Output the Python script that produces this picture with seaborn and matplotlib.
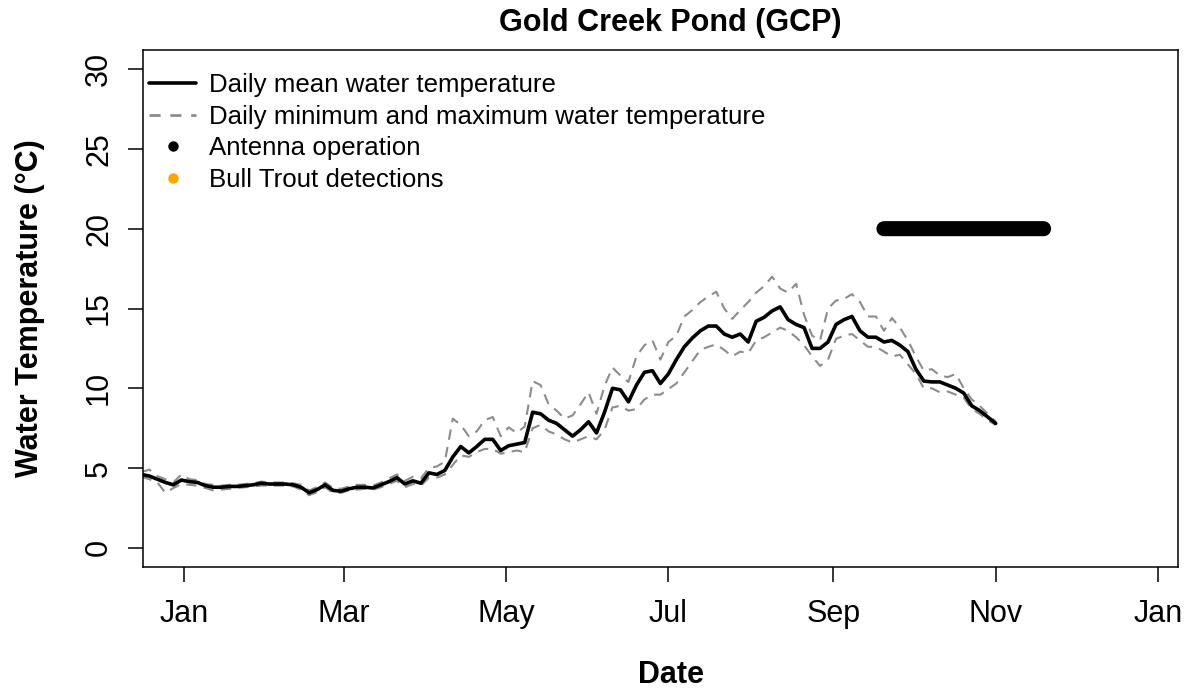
import matplotlib
matplotlib.use("Agg")
import matplotlib.pyplot as plt
import matplotlib.dates as mdates
from matplotlib.lines import Line2D
import seaborn as sns
import pandas as pd

# Water temperature record, one reading every third day from 16 Dec 2019
start_date = "2019-12-16"
step = "3D"

daily_mean = [
    4.6, 4.5, 4.3, 4.1, 3.95, 4.25, 4.15, 4.1, 3.9, 3.8,
    3.8, 3.85, 3.85, 3.9, 3.95, 4.05, 4.0, 4.0, 4.0, 3.95,
    3.8, 3.45, 3.65, 3.95, 3.6, 3.55, 3.7, 3.8, 3.8, 3.75,
    3.95, 4.15, 4.4, 4.0, 4.2, 4.05, 4.7, 4.6, 4.85, 5.7,
    6.35, 5.95, 6.35, 6.8, 6.8, 6.1, 6.4, 6.5, 6.6, 8.5,
    8.4, 8.0, 7.8, 7.4, 7.0, 7.4, 7.9, 7.2, 8.5, 10.0,
    9.9, 9.15, 10.2, 11.0, 11.1, 10.3, 10.9, 11.8, 12.6, 13.15,
    13.6, 13.9, 13.9, 13.4, 13.2, 13.4, 12.9, 14.2, 14.45, 14.85,
    15.1, 14.3, 14.0, 13.8, 12.5, 12.5, 12.9, 14.0, 14.3, 14.5,
    13.6, 13.2, 13.2, 12.9, 13.0, 12.7, 12.3, 11.2, 10.45, 10.4,
    10.4, 10.2, 10.0, 9.7, 8.9, 8.6, 8.2, 7.8,
]

daily_max = [
    4.75, 4.9, 4.5, 4.3, 4.1, 4.6, 4.3, 4.25, 4.0, 3.95,
    3.9, 3.95, 3.95, 4.0, 4.05, 4.15, 4.1, 4.1, 4.1, 4.05,
    3.95, 3.6, 3.8, 4.1, 3.75, 3.7, 3.85, 3.95, 3.95, 3.9,
    4.1, 4.35, 4.6, 4.2, 4.45, 4.35, 5.0, 5.1, 5.4, 8.1,
    7.7, 7.0, 7.3, 8.0, 8.2, 7.0, 7.55, 7.2, 7.6, 10.45,
    10.2, 9.0, 8.6, 8.1, 8.3, 9.0, 9.75, 8.4, 10.15, 11.3,
    10.8, 10.4, 12.0, 12.7, 13.0, 11.8, 12.9, 13.3, 14.5, 14.9,
    15.4, 15.75, 16.05, 15.0, 14.35, 14.9, 15.4, 16.0, 16.4, 17.0,
    16.25, 16.0, 16.55, 14.6, 13.3, 13.0, 15.0, 15.5, 15.6, 15.9,
    15.4, 14.5, 14.5, 13.6, 14.4, 13.8, 13.0, 12.0, 11.1, 11.2,
    10.8, 10.7, 10.9, 10.0, 9.3, 8.9, 8.4, 7.9,
]

daily_min = [
    4.45, 4.3, 4.1, 3.45, 3.75, 4.0, 3.95, 3.9, 3.75, 3.6,
    3.65, 3.7, 3.75, 3.8, 3.85, 3.9, 3.9, 3.9, 3.9, 3.85,
    3.65, 3.3, 3.5, 3.8, 3.45, 3.45, 3.6, 3.65, 3.7, 3.65,
    3.8, 4.0, 4.2, 3.8, 4.0, 3.9, 4.4, 4.4, 4.6, 5.2,
    5.8, 5.7, 6.0, 6.2, 6.2, 5.9, 6.0, 6.1, 6.0, 7.5,
    7.7, 7.3, 7.1, 6.8, 6.6, 6.8, 7.0, 6.8, 7.4, 8.8,
    8.9, 8.6, 8.7, 9.3, 9.6, 9.6, 9.95, 10.3, 11.0, 11.7,
    12.4, 12.6, 12.75, 12.4, 12.0, 12.3, 12.2, 13.0, 13.2, 13.5,
    13.8, 13.6, 13.2, 12.7, 12.0, 11.4, 11.8, 13.1, 13.3, 13.4,
    13.0, 12.6, 12.6, 12.3, 12.0, 12.1, 11.5, 10.9, 10.0, 10.0,
    9.75, 9.8, 9.6, 9.4, 8.7, 8.4, 8.0, 7.7,
]

# Days on which the PIT antenna was running, shown as a band at 20 °C
antenna_start = "2020-09-20"
antenna_end = "2020-11-19"
antenna_level = 20

y_ticks = [0, 5, 10, 15, 20, 25, 30]
tick_months = [1, 3, 5, 7, 9, 11]

title = "Gold Creek Pond (GCP)"
x_label = "Date"
y_label = "Water Temperature (°C)"
legend_labels = [
    "Daily mean water temperature",
    "Daily minimum and maximum water temperature",
    "Antenna operation",
    "Bull Trout detections",
]

dates = pd.date_range(start_date, periods=len(daily_mean), freq=step)
temps = pd.DataFrame({"date": dates, "mean": daily_mean,
                      "max": daily_max, "min": daily_min})
antenna_days = pd.date_range(antenna_start, antenna_end, freq="D")
antenna = pd.DataFrame({"date": antenna_days,
                        "temp": [antenna_level] * len(antenna_days)})

sns.set_style("ticks")
plt.rcParams["font.family"] = ["Liberation Sans", "DejaVu Sans"]
plt.rcParams.update({
    "text.color": "black",
    "axes.labelcolor": "black",
    "xtick.color": "black",
    "ytick.color": "black",
    "axes.edgecolor": "black",
})

fig = plt.figure(figsize=(11.94, 6.92), dpi=100)
ax = fig.add_axes([143 / 1194, 1 - 567 / 692, 1035 / 1194, 517 / 692])

grey = "#8c8c8c"
for col in ["max", "min"]:
    sns.lineplot(data=temps, x="date", y=col, ax=ax, color=grey,
                 linewidth=1.5, linestyle=(0, (5, 3.5)))
sns.lineplot(data=temps, x="date", y="mean", ax=ax, color="black",
             linewidth=2.6)
sns.scatterplot(data=antenna, x="date", y="temp", ax=ax, color="black",
                s=117, edgecolor="none", linewidth=0, zorder=5)

ax.set_xlim(pd.Timestamp("2019-12-16 14:00"), pd.Timestamp("2021-01-08 12:00"))
ax.set_ylim(-1.2, 31.2)
ax.set_yticks(y_ticks)
ax.xaxis.set_major_locator(mdates.MonthLocator(bymonth=tick_months))
ax.xaxis.set_major_formatter(mdates.DateFormatter("%b"))

for side in ["left", "right", "top", "bottom"]:
    ax.spines[side].set_visible(True)
    ax.spines[side].set_color("black")
    ax.spines[side].set_linewidth(1.1)

ax.tick_params(axis="both", direction="out", length=10.8, width=1.1,
               color="black", labelsize=22, labelcolor="black")
ax.tick_params(axis="x", pad=12)
ax.tick_params(axis="y", pad=10)
for lab in ax.get_yticklabels():
    lab.set_rotation(90)
    lab.set_va("center")

# Title and x label sit a little right of the box centre
centre_x = 0.5 + 10 / 1035
ax.set_xlabel(x_label, fontsize=22, fontweight="bold", va="center",
              color="black")
ax.xaxis.set_label_coords(centre_x, (567 - 675) / 517)
ax.set_ylabel(y_label, fontsize=22, fontweight="bold", va="center",
              ha="center", color="black")
ax.yaxis.set_label_coords((30 - 143) / 1035, 0.5)
ax.set_title(title, fontsize=22, fontweight="bold", va="center",
             x=centre_x, y=(567 - 23) / 517, pad=0, color="black")

handles = [
    Line2D([], [], color="black", linewidth=2.6),
    Line2D([], [], color=grey, linewidth=2.0, linestyle=(0, (4, 3.5))),
    Line2D([], [], color="black", marker="o", markersize=7.5, linestyle="none",
           markeredgewidth=0),
    Line2D([], [], color="orange", marker="o", markersize=7.5, linestyle="none",
           markeredgewidth=0),
]
leg = ax.legend(handles, legend_labels, loc="upper left",
                bbox_to_anchor=(0.0055, 0.955), frameon=False, fontsize=18.6,
                handlelength=1.85, handletextpad=0.48, labelspacing=0.29,
                borderpad=0, borderaxespad=0)
for txt in leg.get_texts():
    txt.set_color("black")

fig.savefig("out.png", dpi=100)
